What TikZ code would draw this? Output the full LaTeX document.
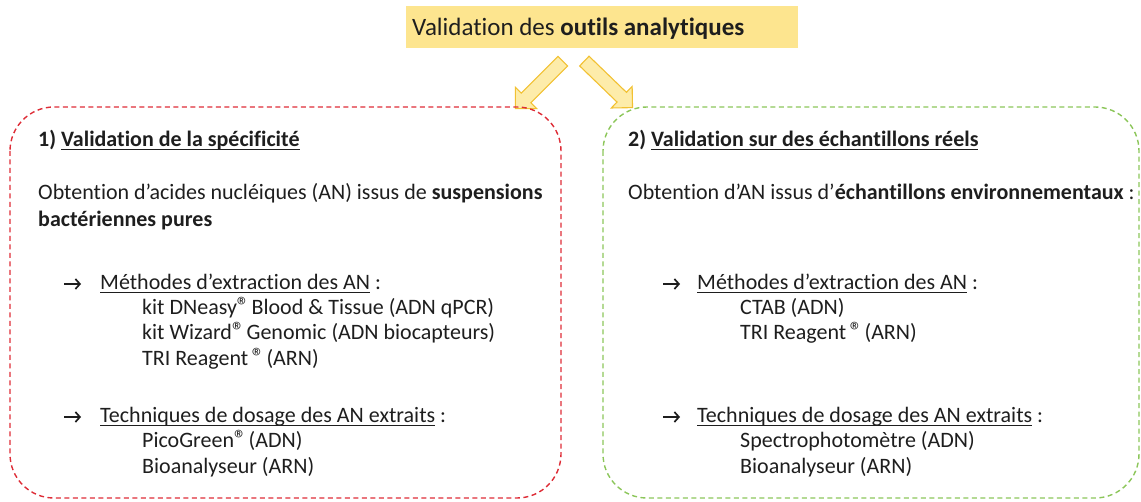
\documentclass[tikz,border=0pt]{standalone}
\usepackage{fontspec}
\setmainfont{Carlito}[Ligatures = NoCommon]
\usetikzlibrary{shapes.arrows,calc,arrows.meta}

\definecolor{titleyellow}{RGB}{253,229,143}
\definecolor{arrowfill}{RGB}{253,236,170}
\definecolor{arrowline}{RGB}{242,193,50}
\definecolor{boxred}{RGB}{222,45,55}
\definecolor{boxgreen}{RGB}{140,198,90}
\definecolor{textgray}{RGB}{30,30,30}

\newlength\ulwd
\newcommand\ulin[1]{\settowidth\ulwd{#1}\rlap{\rule[-2.6pt]{\ulwd}{1pt}}#1}
\newcommand\regmark{{\fontsize{25}{25}\selectfont ®}\kern-3pt}
\newcommand\rarrow{\tikz[baseline] \draw [line width = 1.7pt, -{Straight Barb[length = 4.5pt, width = 10pt]}]
	(0, 6pt) -- (17pt, 6pt);}

\tikzset{
	txt/.style = {anchor = base west, inner sep = 0, text = textgray,
		font = \fontsize{22}{26}\selectfont},
	arrowsym/.style = {txt},
	framebox/.style = {dashed, dash pattern = on 5pt off 3.5pt, line width = 1.4pt,
		rounded corners = 44pt},
	blockarr/.style = {single arrow, draw = arrowline, fill = arrowfill, line width = 1.1pt,
		inner sep = 6pt, minimum height = 67pt, minimum width = 30pt,
		single arrow head extend = 8pt}
}

\begin{document}
\begin{tikzpicture}[x = 1pt, y = -1pt]

	\useasboundingbox (0, 0) rectangle (1141, 502);

	% Title banner
	
	\fill [titleyellow] (406, 6) rectangle (798, 48);
	\node [txt, font = \fontsize{25}{30}\selectfont] (title) at (412, 36)
		{Validation des \textbf{outils analytiques}};
	
	% Block arrows towards the two frames
	
	\coordinate (tailL) at (565, 59);
	\coordinate (tipL) at (518, 106);
	\coordinate (tailR) at (582, 59);
	\coordinate (tipR) at (630, 105);
	\node [blockarr, rotate = -135] (arrL) at ($(tailL)!0.5!(tipL)$) {};
	\node [blockarr, rotate = -44] (arrR) at ($(tailR)!0.5!(tipR)$) {};
	
	% Dashed frames
	
	\draw [framebox, boxred] (10, 107) rectangle (561, 498);
	\draw [framebox, boxgreen] (603, 107) rectangle (1139, 498);
	
	% Left frame: specificity
	
	\node [txt] (headL) at (38, 147) {\textbf{1) \ulin{Validation de la spécificité}}};
	\node [txt] (obtL1) at (38, 200) {Obtention d’acides nucléiques (AN) issus de \textbf{suspensions}};
	\node [txt] (obtL2) at (38, 227) {\textbf{bactériennes pures}};
	
	\node [arrowsym] (arrowL1) at (63, 290) {\rarrow};
	\node [txt] (extrL) at (100, 290) {\ulin{Méthodes d’extraction des AN} :};
	\node [txt] (kitL1) at (142, 315) {kit DNeasy\regmark{} Blood \& Tissue (ADN qPCR)};
	\node [txt] (kitL2) at (142, 340) {kit Wizard\regmark{} Genomic (ADN biocapteurs)};
	\node [txt] (kitL3) at (142, 366) {TRI Reagent\,\regmark{} (ARN)};
	
	\node [arrowsym] (arrowL2) at (63, 423) {\rarrow};
	\node [txt] (dosL) at (100, 423) {\ulin{Techniques de dosage des AN extraits} :};
	\node [txt] (dosL1) at (142, 448) {PicoGreen\regmark{} (ADN)};
	\node [txt] (dosL2) at (142, 474) {Bioanalyseur (ARN)};
	
	% Right frame: real samples
	
	\node [txt] (headR) at (628, 147) {\textbf{2) \ulin{Validation sur des échantillons réels}}};
	\node [txt] (obtR) at (628, 200) {Obtention d’AN issus d’\textbf{échantillons environnementaux} :};
	
	\node [arrowsym] (arrowR1) at (662, 290) {\rarrow};
	\node [txt] (extrR) at (697, 290) {\ulin{Méthodes d’extraction des AN} :};
	\node [txt] (kitR1) at (740, 315) {CTAB (ADN)};
	\node [txt] (kitR2) at (740, 340) {TRI Reagent\,\regmark{} (ARN)};
	
	\node [arrowsym] (arrowR2) at (662, 423) {\rarrow};
	\node [txt] (dosR) at (697, 423) {\ulin{Techniques de dosage des AN extraits} :};
	\node [txt] (dosR1) at (740, 448) {Spectrophotomètre (ADN)};
	\node [txt] (dosR2) at (740, 474) {Bioanalyseur (ARN)};
	
\end{tikzpicture}
\end{document}
